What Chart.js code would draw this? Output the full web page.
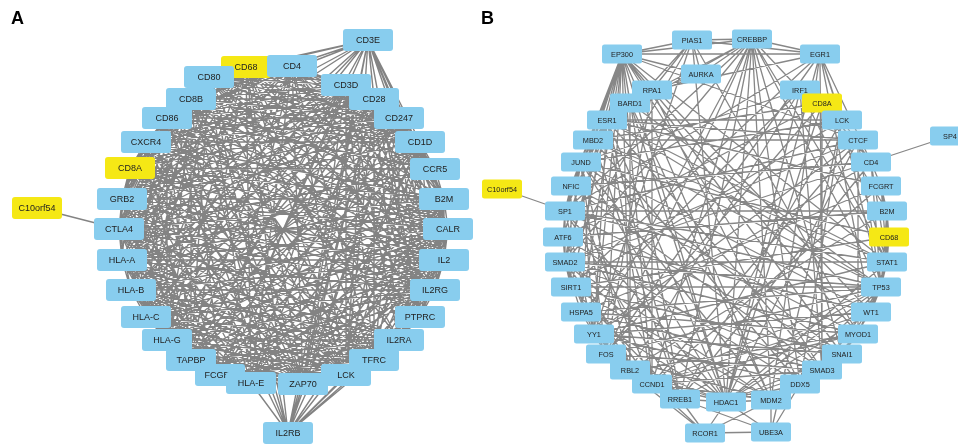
<!DOCTYPE html>
<html><head><meta charset="utf-8">
<script src="https://cdn.jsdelivr.net/npm/chart.js@4/dist/chart.umd.min.js"></script>
<style>html,body{margin:0;padding:0;background:#fff;overflow:hidden}canvas{display:block}</style>
</head><body>
<canvas id="c" width="958" height="446"></canvas>
<script>
// ---------- Panel A network ----------
const namesA = ['CD3E','CD68','CD4','CD80','CD8B','CD86','CXCR4','CD8A','GRB2','CTLA4','HLA-A','HLA-B','HLA-C','HLA-G','TAPBP','FCGRT','HLA-E','IL2RB','LCK','ZAP70','TFRC','IL2RA','PTPRC','IL2RG','IL2','CALR','B2M','CCR5','CD1D','CD247','CD3D','CD28','C10orf54'];
const xA = [368,246,292,209,191,167,146,130,122,119,122,131,146,167,191,220,251,288,346,303,374,399,420,435,444,448,444,435,420,399,346,374,37];
const yA = [40,67,66,77,99,118,142,168,199,229,260,290,317,340,360,375,383,433,375,384,360,340,317,290,260,229,199,169,142,118,85,99,208];
const highlightA = ['CD68','CD8A','C10orf54'];
// upper-triangle adjacency among the 32 ring genes (row i, char k -> edge i, i+1+k)
const adjA = [
 '1011101101110110111011011101101',
 '011111011111101111110111101111',
 '11110111011111011101111011111',
 '1111011111101111011111011111',
 '111101111110111101111101111',
 '11110111101111101111011111',
 '1110111110111101111101111',
 '111011111011110111110111',
 '11011111011110111101111',
 '1101111011110111110111',
 '101111011110111110111',
 '11111011110111101111',
 '1111011110111101111',
 '111011110111101111',
 '11011110111101111',
 '1011110111101111',
 '111110111101111',
 '11011101101101',
 '1111011101111',
 '111011101111',
 '11011101111',
 '1011101111',
 '111101111',
 '11101111',
 '1101111',
 '101111',
 '11111',
 '1111',
 '111',
 '11',
 '1'
];
const extraA = [[9,32]]; // CTLA4 - C10orf54

// ---------- Panel B network ----------
const namesB = ['PIAS1','CREBBP','EGR1','IRF1','CD8A','LCK','CTCF','CD4','FCGRT','B2M','CD68','STAT1','TP53','WT1','MYOD1','SNAI1','SMAD3','DDX5','MDM2','UBE3A','HDAC1','RCOR1','RREB1','CCND1','RBL2','FOS','YY1','HSPA5','SIRT1','SMAD2','ATF6','SP1','NFIC','JUND','MBD2','ESR1','RPA1','BARD1','EP300','AURKA','SP4','C10orf54'];
const xB = [692,752,820,800,822,842,858,871,881,887,889,887,881,871,858,842,822,800,771,771,726,705,680,652,630,606,594,581,571,565,563,565,571,581,593,607,652,630,622,701,950,502];
const yB = [40,39,54,90,103,120,140,162,186,211,237,262,287,312,334,354,370,384,400,432,402,433,399,384,370,354,334,312,287,262,237,211,186,162,140,120,90,103,54,74,136,189];
const highlightB = ['CD8A','CD68','C10orf54'];
const adjB = [
 [1,38,2,39,36,26,14,20,29,33],
 [2,38,3,12,15,17,18,20,22,23,25,26,29,31,35,37,39,11],
 [38,5,7,11,13,16,18,20,25,28,31,36],
 [4,11,20,27,33,16,24],
 [5,7,9,16,20,30,25,34],
 [7,12,17,28,33,22,35,19],
 [12,14,23,29,31,34,35,38,26,20],
 [8,11,12,22,29,32,40,26],
 [9,10,11,35,27,23],
 [10,11,12,30,24,31],
 [11,12,33,28],
 [12,14,20,26,31,35,38,29,34],
 [13,14,15,16,18,20,22,23,25,27,28,29,31,34,35,37],
 [15,20,26,30,38,33,23],
 [15,16,23,24,29,32,36,27],
 [16,20,26,31,33,28,38],
 [17,20,23,25,29,32,35,38,27],
 [18,19,20,26,34,30,36],
 [19,20,21,23,28,29,37,25,33,38],
 [20,21,22],
 [21,22,23,24,25,27,29,31,33,35,37,38],
 [22,23,25],
 [23,31,34,28,38,35,26],
 [24,25,26,29,35,38,32,36],
 [25,26,37,38,33,30],
 [26,29,33,38,36],
 [27,29,31,33,35,38],
 [29,34,38],
 [29,35,38,32],
 [30,31,33,35,38],
 [31,38,34],
 [32,33,35,38,41],
 [38,34],
 [34,35,38],
 [35,37,38],
 [36,37,38],
 [37,38,39],
 [38,39],
 [39],
 [],
 [],
 []
];

// ---------- build library datasets ----------
function pairsFromBits(rows){
  const p=[];
  rows.forEach((r,i)=>{for(let k=0;k<r.length;k++){ if(r[k]==='1'){ const j=i+1+k; if(j<32) p.push([i,j]); } }});
  return p;
}
function pairsFromLists(lists){
  const p=[];
  lists.forEach((l,i)=>l.forEach(j=>p.push([i,j])));
  return p;
}
function edgeData(xs,ys,pairs){
  const d=[];
  pairs.forEach(([i,j])=>{ d.push({x:xs[i],y:ys[i]},{x:xs[j],y:ys[j]},{x:xs[j],y:null}); });
  return d;
}
function nodeData(xs,ys){ return xs.map((x,i)=>({x:x,y:ys[i]})); }

const edgesA = pairsFromBits(adjA).concat(extraA);
const edgesB = pairsFromLists(adjB);

const nodePlugin = {
  id:'nodes',
  afterDatasetsDraw(chart){
    const ctx = chart.ctx;
    chart.data.datasets.forEach((ds,di)=>{
      if(!ds.nodeNames) return;
      const meta = chart.getDatasetMeta(di);
      meta.data.forEach((el,i)=>{
        const w=ds.boxW, h=ds.boxH, r=ds.radiusBox;
        const x=el.x-w/2, y=el.y-h/2;
        ctx.save();
        ctx.beginPath();
        ctx.moveTo(x+r,y); ctx.lineTo(x+w-r,y); ctx.quadraticCurveTo(x+w,y,x+w,y+r);
        ctx.lineTo(x+w,y+h-r); ctx.quadraticCurveTo(x+w,y+h,x+w-r,y+h);
        ctx.lineTo(x+r,y+h); ctx.quadraticCurveTo(x,y+h,x,y+h-r);
        ctx.lineTo(x,y+r); ctx.quadraticCurveTo(x,y,x+r,y); ctx.closePath();
        ctx.fillStyle = ds.highlight.includes(ds.nodeNames[i]) ? '#f5e815' : '#88cdee';
        ctx.fill();
        ctx.fillStyle = '#222';
        ctx.font = ds.fontSpec;
        ctx.textAlign='center'; ctx.textBaseline='middle';
        ctx.fillText(ds.nodeNames[i], el.x, el.y+0.5);
        ctx.restore();
      });
    });
    // panel letters
    const xs = chart.scales.x, ys = chart.scales.y;
    ctx.save();
    ctx.fillStyle='#000';
    ctx.font='bold 18px "Liberation Sans", Arial, sans-serif';
    ctx.textAlign='left'; ctx.textBaseline='alphabetic';
    ctx.fillText('A', xs.getPixelForValue(11), ys.getPixelForValue(24));
    ctx.fillText('B', xs.getPixelForValue(481), ys.getPixelForValue(24));
    ctx.restore();
  }
};

new Chart(document.getElementById('c'), {
  type:'scatter',
  data:{datasets:[
    {data:edgeData(xA,yA,edgesA), showLine:true, borderColor:'#838383', borderWidth:1.4, pointRadius:0, spanGaps:false},
    {data:edgeData(xB,yB,edgesB), showLine:true, borderColor:'#878787', borderWidth:1.3, pointRadius:0, spanGaps:false},
    {data:nodeData(xA,yA), pointRadius:0, nodeNames:namesA, highlight:highlightA, boxW:50, boxH:22, radiusBox:3, fontSpec:'9px "Liberation Sans", Arial, sans-serif'},
    {data:nodeData(xB,yB), pointRadius:0, nodeNames:namesB, highlight:highlightB, boxW:40, boxH:19, radiusBox:2.5, fontSpec:'7.3px "Liberation Sans", Arial, sans-serif'}
  ]},
  options:{
    responsive:false, animation:false, devicePixelRatio:1,
    layout:{padding:0},
    plugins:{legend:{display:false}, tooltip:{enabled:false}},
    events:[],
    scales:{
      x:{type:'linear', min:0, max:958, display:false},
      y:{type:'linear', min:0, max:446, reverse:true, display:false}
    }
  },
  plugins:[nodePlugin]
});
</script>
</body></html>
